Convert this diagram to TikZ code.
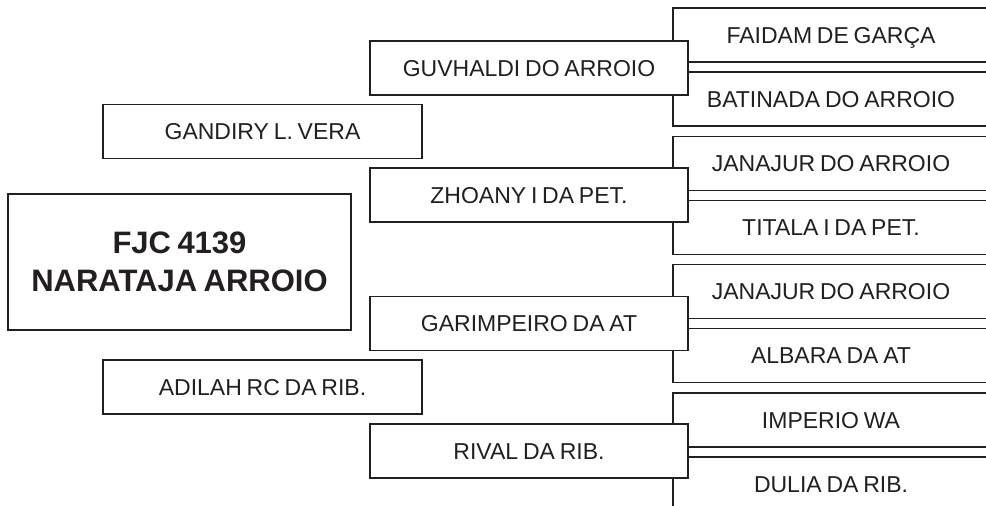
\documentclass[tikz,border=0pt]{standalone}
\usepackage{fontspec}
\setmainfont[WordSpace=0.75]{Liberation Sans}
\usepackage{tikz}
\definecolor{ink}{HTML}{231F20}
\tikzset{
  pedbox/.style={
    rectangle, draw=ink, fill=white, line width=1.8pt,
    minimum width=#1, minimum height=54pt,
    text=ink, text height=16.4pt, text depth=0pt,
    font=\fontsize{23}{27}\selectfont,
    inner sep=0pt
  },
  pedbox/.default=318pt,
  % great-grandparents, open to the right edge
  ggpbox/.style={pedbox=316pt},
  probandbox/.style={
    rectangle, draw=ink, fill=white, line width=1.8pt,
    minimum width=343pt, minimum height=136pt,
    text=ink, align=center,
    font=\fontsize{31}{38}\selectfont\bfseries,
    inner sep=0pt
  },
}

\begin{document}
\begin{tikzpicture}[x=1pt, y=-1pt]
\useasboundingbox (0,0) rectangle (986,506);

% ── great-grandparents ──
\node[ggpbox] (ggp1) at (831,35)    {FAIDAM DE GARÇA};
\node[ggpbox] (ggp2) at (831,99)    {BATINADA DO ARROIO};
\node[ggpbox] (ggp3) at (831,163.5) {JANAJUR DO ARROIO};
\node[ggpbox] (ggp4) at (831,227.5) {TITALA I DA PET.};
\node[ggpbox] (ggp5) at (831,291.5) {JANAJUR DO ARROIO};
\node[ggpbox] (ggp6) at (831,355.5) {ALBARA DA AT};
\node[ggpbox] (ggp7) at (831,420)   {IMPERIO WA};
\node[ggpbox] (ggp8) at (831,484)   {DULIA DA RIB.};

% ── grandparents ──
\node[pedbox] (gp1) at (529,68)    {GUVHALDI DO ARROIO};
\node[pedbox] (gp2) at (529,195)   {ZHOANY I DA PET.};
\node[pedbox] (gp3) at (529,323.5) {GARIMPEIRO DA AT};
\node[pedbox] (gp4) at (529,451)   {RIVAL DA RIB.};

% ── parents ──
\node[pedbox=319pt] (sire) at (262.5,131.5) {GANDIRY L. VERA};
\node[pedbox=319pt] (dam)  at (262.5,387)   {ADILAH RC DA RIB.};

% ── proband ──
\node[probandbox] (proband) at (179.5,262) {FJC 4139\\NARATAJA ARROIO};

\end{tikzpicture}
\end{document}
